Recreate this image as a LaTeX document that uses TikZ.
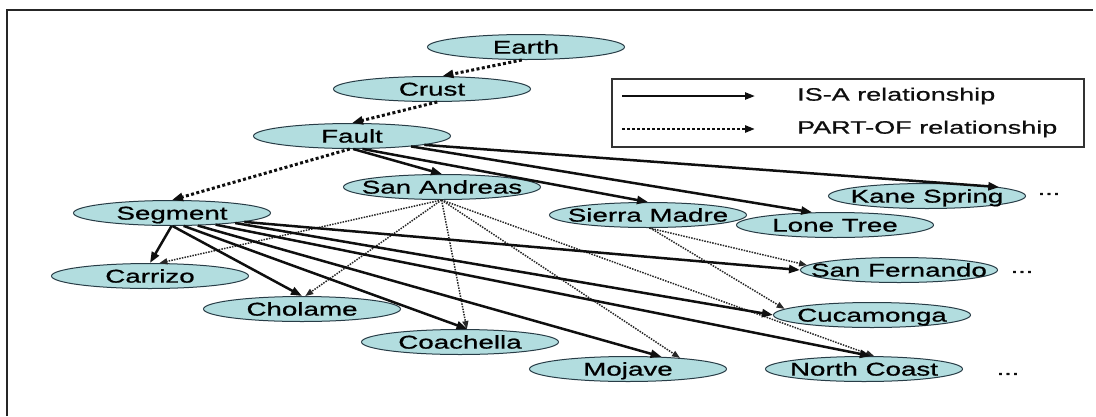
\documentclass[tikz,border=0pt]{standalone}
\usepackage{fontspec}
\setmainfont{Liberation Sans}
\newfontfamily\nf[FakeStretch=1.5,FakeBold=0.8]{Liberation Sans}
\usetikzlibrary{shapes.geometric,arrows.meta}
\definecolor{nodefill}{RGB}{178,221,223}
\definecolor{nodeline}{RGB}{40,60,70}
\definecolor{ink}{RGB}{15,15,15}
\newcommand{\lbl}[1]{{\nf\fontsize{18.5}{20}\selectfont\makebox[0pt]{\raisebox{-6.6pt}[0pt][0pt]{#1}}}}
\tikzset{
  concept/.style={ellipse, draw=nodeline, line width=1pt, fill=nodefill,
    minimum width=197pt, minimum height=25pt, inner sep=0pt},
  isa/.style={draw=ink, line width=2.5pt, -{Triangle[length=11pt,width=8pt]}},
  partof/.style={draw=ink, line width=3pt, dash pattern=on 3pt off 2.4pt,
    -{Triangle[length=11pt,width=8pt]}},
  partofthin/.style={draw=ink!90, line width=1.5pt, dash pattern=on 1.5pt off 1.2pt,
    -{Triangle[length=8pt,width=6pt]}},
  legendtext/.style={anchor=west, inner sep=0pt, font=\nf\fontsize{18}{20}\selectfont, text=ink},
  dots/.style={inner sep=0pt, font=\nf\fontsize{18}{20}\selectfont, text=ink},
}
\begin{document}
\begin{tikzpicture}[x=1pt,y=-1pt]
\useasboundingbox (0,0) rectangle (1096,416);
% frame
\draw[line width=2pt, black!85] (7,416) -- (7,10) -- (1093,10);

% legend
\node[draw=black!80, line width=1.2pt, rectangle, minimum width=472pt, minimum height=68pt, inner sep=0pt] (legend) at (848,113) {};
\coordinate (la1) at (622,96);
\coordinate (la2) at (755,96);
\coordinate (lb1) at (622,129);
\coordinate (lb2) at (755,129);
\draw[draw=ink, line width=2.2pt, -{Triangle[length=10pt,width=7pt]}] (la1) -- (la2);
\draw[draw=ink, line width=2.6pt, dash pattern=on 2.6pt off 2.4pt, -{Triangle[length=10pt,width=7pt]}] (lb1) -- (lb2);
\node[legendtext] (lt1) at (797,96) {IS-A relationship};
\node[legendtext] (lt2) at (797,129) {PART-OF relationship};

% nodes
\node[concept] (Earth) at (526,47) {\lbl{Earth}};
\node[concept] (Crust) at (432,89) {\lbl{Crust}};
\node[concept] (Fault) at (352,136) {\lbl{Fault}};
\node[concept] (SanAndreas) at (442,187) {\lbl{San Andreas}};
\node[concept] (Segment) at (172,213) {\lbl{Segment}};
\node[concept] (SierraMadre) at (648,215) {\lbl{Sierra Madre}};
\node[concept] (LoneTree) at (835,225) {\lbl{Lone Tree}};
\node[concept] (Kane) at (927,196) {\lbl{Kane Spring}};
\node[concept] (SanFernando) at (899,270) {\lbl{San Fernando}};
\node[concept] (Cucamonga) at (872,315) {\lbl{Cucamonga}};
\node[concept] (NorthCoast) at (864,369) {\lbl{North Coast}};
\node[concept] (Mojave) at (628,369) {\lbl{Mojave}};
\node[concept] (Coachella) at (460,342) {\lbl{Coachella}};
\node[concept] (Cholame) at (302,309) {\lbl{Cholame}};
\node[concept] (Carrizo) at (150,276) {\lbl{Carrizo}};

\node[dots] (d1) at (1049,194) {...};
\node[dots] (d2) at (1022,272) {...};
\node[dots] (d3) at (1008,374) {...};

% PART-OF (thick)
\draw[partof] (Earth.-108) -- (Crust.51);
\draw[partof] (Crust.-68) -- (Fault.north);
\draw[partof] (Fault.-100) -- (Segment.north);

% IS-A from Fault
\draw[isa] (Fault.-85) -- (SanAndreas.north);
\draw[isa] (Fault.-51) -- (SierraMadre.north);
\draw[isa] (Fault.-10) -- (LoneTree.151);
\draw[isa] (Fault.-7) -- (Kane.7);

% PART-OF from San Andreas
\draw[partofthin] (SanAndreas.-92) -- (Carrizo.54);
\draw[partofthin] (SanAndreas.-92) -- (Cholame.76);
\draw[partofthin] (SanAndreas.-92) -- (Coachella.62);
\draw[partofthin] (SanAndreas.-92) -- (Mojave.12);
\draw[partofthin] (SanAndreas.-92) -- (NorthCoast.52);

% PART-OF from Sierra Madre
\draw[partofthin] (SierraMadre.-85) -- (SanFernando.177);
\draw[partofthin] (SierraMadre.-80) -- (Cucamonga.176);

% IS-A from Segment
\draw[isa] (Segment.-92) -- (Carrizo.north);
\draw[isa] (Segment.-88) -- (Cholame.north);
\draw[isa] (Segment.-48) -- (Coachella.60);
\draw[isa] (Segment.-26) -- (Mojave.20);
\draw[isa] (Segment.-15.5) -- (NorthCoast.62);
\draw[isa] (Segment.-9.4) -- (Cucamonga.west);
\draw[isa] (Segment.-7) -- (SanFernando.west);
\end{tikzpicture}
\end{document}
